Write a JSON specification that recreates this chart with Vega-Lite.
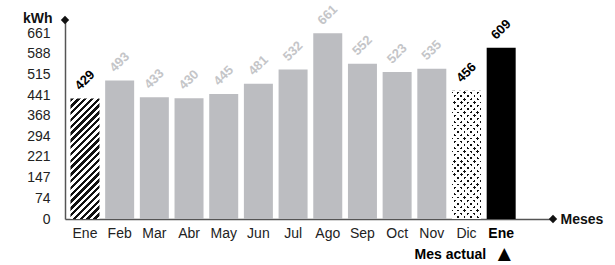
{
  "$schema": "https://vega.github.io/schema/vega-lite/v6.json",
  "width": 488,
  "height": 199,
  "autosize": {"type": "none"},
  "padding": {"left": 65, "top": 20, "right": 62, "bottom": 46},
  "background": "#ffffff",
  "config": {
    "font": "Liberation Sans",
    "view": {"stroke": null},
    "axis": {"grid": false, "ticks": false, "domainColor": "#555555", "domainWidth": 1.5, "labelColor": "#222222", "labelFontSize": 14, "labelFont": "Liberation Sans", "titleFont": "Liberation Sans", "labelOverlap": false},
    "axisY": {"labelOverlap": false}
  },
  "resolve": {"scale": {"x": "independent"}},
  "layer": [
    {
      "data": {"values": [
        {"mes": "Ene", "kwh": 429, "tipo": "anterior"},
        {"mes": "Feb", "kwh": 493, "tipo": "normal"},
        {"mes": "Mar", "kwh": 433, "tipo": "normal"},
        {"mes": "Abr", "kwh": 430, "tipo": "normal"},
        {"mes": "May", "kwh": 445, "tipo": "normal"},
        {"mes": "Jun", "kwh": 481, "tipo": "normal"},
        {"mes": "Jul", "kwh": 532, "tipo": "normal"},
        {"mes": "Ago", "kwh": 661, "tipo": "normal"},
        {"mes": "Sep", "kwh": 552, "tipo": "normal"},
        {"mes": "Oct", "kwh": 523, "tipo": "normal"},
        {"mes": "Nov", "kwh": 535, "tipo": "normal"},
        {"mes": "Dic", "kwh": 456, "tipo": "previo"},
        {"mes": "Ene ", "kwh": 609, "tipo": "actual"}
      ]},
      "encoding": {
        "x": {
          "field": "mes", "type": "nominal", "sort": null,
          "scale": {"domain": ["Ene", "Feb", "Mar", "Abr", "May", "Jun", "Jul", "Ago", "Sep", "Oct", "Nov", "Dic", "Ene "], "paddingInner": 0.164, "paddingOuter": 0.617, "align": 0.128, "round": false},
          "axis": {
            "labelAngle": 0, "labelPadding": 7, "labelExpr": "trim(datum.label)", "labelOverlap": false,
            "labelFontWeight": {"condition": {"test": "datum.value === 'Ene '", "value": "bold"}, "value": "normal"},
            "labelColor": {"condition": {"test": "datum.value === 'Ene '", "value": "#000000"}, "value": "#222222"},
            "title": "Meses", "titleX": 495, "titleY": 0, "titleAlign": "left", "titleBaseline": "middle", "titleAnchor": null,
            "titleFontWeight": "bold", "titleFontSize": 14, "titleColor": "#111111"
          }
        },
        "y": {
          "field": "kwh", "type": "quantitative",
          "scale": {"domain": [0, 708], "nice": false, "zero": true},
          "axis": {
            "values": [0, 74, 147, 221, 294, 368, 441, 515, 588, 661],
            "labelOverlap": false, "labelFlush": false,
            "labelPadding": 15,
            "title": "kWh", "titleAngle": 0, "titleX": -13, "titleY": -2, "titleAlign": "right", "titleBaseline": "middle",
            "titleFontWeight": "bold", "titleFontSize": 14, "titleColor": "#111111"
          }
        }
      },
      "layer": [
        {
          "transform": [{"filter": "datum.tipo === 'normal'"}],
          "mark": {"type": "bar", "fill": "#bcbdc1", "stroke": null}
        },
        {
          "transform": [{"filter": "datum.tipo === 'actual'"}],
          "mark": {"type": "bar", "fill": "#000000", "stroke": null}
        },
        {
          "transform": [{"filter": "datum.tipo === 'anterior'"}],
          "mark": {"type": "bar", "stroke": null, "fill": {
            "gradient": "linear", "x1": 0, "y1": 0, "x2": 0.282, "y2": 1.1727,
            "stops": [
              {"offset": 0, "color": "#111"}, {"offset": 0.0227, "color": "#111"}, {"offset": 0.0227, "color": "#fff"}, {"offset": 0.0455, "color": "#fff"},
              {"offset": 0.0455, "color": "#111"}, {"offset": 0.0682, "color": "#111"}, {"offset": 0.0682, "color": "#fff"}, {"offset": 0.0909, "color": "#fff"},
              {"offset": 0.0909, "color": "#111"}, {"offset": 0.1136, "color": "#111"}, {"offset": 0.1136, "color": "#fff"}, {"offset": 0.1364, "color": "#fff"},
              {"offset": 0.1364, "color": "#111"}, {"offset": 0.1591, "color": "#111"}, {"offset": 0.1591, "color": "#fff"}, {"offset": 0.1818, "color": "#fff"},
              {"offset": 0.1818, "color": "#111"}, {"offset": 0.2045, "color": "#111"}, {"offset": 0.2045, "color": "#fff"}, {"offset": 0.2273, "color": "#fff"},
              {"offset": 0.2273, "color": "#111"}, {"offset": 0.25, "color": "#111"}, {"offset": 0.25, "color": "#fff"}, {"offset": 0.2727, "color": "#fff"},
              {"offset": 0.2727, "color": "#111"}, {"offset": 0.2955, "color": "#111"}, {"offset": 0.2955, "color": "#fff"}, {"offset": 0.3182, "color": "#fff"},
              {"offset": 0.3182, "color": "#111"}, {"offset": 0.3409, "color": "#111"}, {"offset": 0.3409, "color": "#fff"}, {"offset": 0.3636, "color": "#fff"},
              {"offset": 0.3636, "color": "#111"}, {"offset": 0.3864, "color": "#111"}, {"offset": 0.3864, "color": "#fff"}, {"offset": 0.4091, "color": "#fff"},
              {"offset": 0.4091, "color": "#111"}, {"offset": 0.4318, "color": "#111"}, {"offset": 0.4318, "color": "#fff"}, {"offset": 0.4545, "color": "#fff"},
              {"offset": 0.4545, "color": "#111"}, {"offset": 0.4773, "color": "#111"}, {"offset": 0.4773, "color": "#fff"}, {"offset": 0.5, "color": "#fff"},
              {"offset": 0.5, "color": "#111"}, {"offset": 0.5227, "color": "#111"}, {"offset": 0.5227, "color": "#fff"}, {"offset": 0.5455, "color": "#fff"},
              {"offset": 0.5455, "color": "#111"}, {"offset": 0.5682, "color": "#111"}, {"offset": 0.5682, "color": "#fff"}, {"offset": 0.5909, "color": "#fff"},
              {"offset": 0.5909, "color": "#111"}, {"offset": 0.6136, "color": "#111"}, {"offset": 0.6136, "color": "#fff"}, {"offset": 0.6364, "color": "#fff"},
              {"offset": 0.6364, "color": "#111"}, {"offset": 0.6591, "color": "#111"}, {"offset": 0.6591, "color": "#fff"}, {"offset": 0.6818, "color": "#fff"},
              {"offset": 0.6818, "color": "#111"}, {"offset": 0.7045, "color": "#111"}, {"offset": 0.7045, "color": "#fff"}, {"offset": 0.7273, "color": "#fff"},
              {"offset": 0.7273, "color": "#111"}, {"offset": 0.75, "color": "#111"}, {"offset": 0.75, "color": "#fff"}, {"offset": 0.7727, "color": "#fff"},
              {"offset": 0.7727, "color": "#111"}, {"offset": 0.7955, "color": "#111"}, {"offset": 0.7955, "color": "#fff"}, {"offset": 0.8182, "color": "#fff"},
              {"offset": 0.8182, "color": "#111"}, {"offset": 0.8409, "color": "#111"}, {"offset": 0.8409, "color": "#fff"}, {"offset": 0.8636, "color": "#fff"},
              {"offset": 0.8636, "color": "#111"}, {"offset": 0.8864, "color": "#111"}, {"offset": 0.8864, "color": "#fff"}, {"offset": 0.9091, "color": "#fff"},
              {"offset": 0.9091, "color": "#111"}, {"offset": 0.9318, "color": "#111"}, {"offset": 0.9318, "color": "#fff"}, {"offset": 0.9545, "color": "#fff"},
              {"offset": 0.9545, "color": "#111"}, {"offset": 0.9773, "color": "#111"}, {"offset": 0.9773, "color": "#fff"}, {"offset": 1, "color": "#fff"}
            ]
          }}
        },
        {
          "transform": [{"filter": "datum.tipo === 'previo'"}],
          "mark": {"type": "bar", "stroke": null, "fill": {
            "gradient": "linear", "x1": 0, "y1": 0, "x2": 0.26395, "y2": 1.16655,
            "stops": [
              {"offset": 0, "color": "#111"}, {"offset": 0.0167, "color": "#111"}, {"offset": 0.0167, "color": "#fff"}, {"offset": 0.0417, "color": "#fff"},
              {"offset": 0.0417, "color": "#111"}, {"offset": 0.0583, "color": "#111"}, {"offset": 0.0583, "color": "#fff"}, {"offset": 0.0833, "color": "#fff"},
              {"offset": 0.0833, "color": "#111"}, {"offset": 0.1, "color": "#111"}, {"offset": 0.1, "color": "#fff"}, {"offset": 0.125, "color": "#fff"},
              {"offset": 0.125, "color": "#111"}, {"offset": 0.1417, "color": "#111"}, {"offset": 0.1417, "color": "#fff"}, {"offset": 0.1667, "color": "#fff"},
              {"offset": 0.1667, "color": "#111"}, {"offset": 0.1833, "color": "#111"}, {"offset": 0.1833, "color": "#fff"}, {"offset": 0.2083, "color": "#fff"},
              {"offset": 0.2083, "color": "#111"}, {"offset": 0.225, "color": "#111"}, {"offset": 0.225, "color": "#fff"}, {"offset": 0.25, "color": "#fff"},
              {"offset": 0.25, "color": "#111"}, {"offset": 0.2667, "color": "#111"}, {"offset": 0.2667, "color": "#fff"}, {"offset": 0.2917, "color": "#fff"},
              {"offset": 0.2917, "color": "#111"}, {"offset": 0.3083, "color": "#111"}, {"offset": 0.3083, "color": "#fff"}, {"offset": 0.3333, "color": "#fff"},
              {"offset": 0.3333, "color": "#111"}, {"offset": 0.35, "color": "#111"}, {"offset": 0.35, "color": "#fff"}, {"offset": 0.375, "color": "#fff"},
              {"offset": 0.375, "color": "#111"}, {"offset": 0.3917, "color": "#111"}, {"offset": 0.3917, "color": "#fff"}, {"offset": 0.4167, "color": "#fff"},
              {"offset": 0.4167, "color": "#111"}, {"offset": 0.4333, "color": "#111"}, {"offset": 0.4333, "color": "#fff"}, {"offset": 0.4583, "color": "#fff"},
              {"offset": 0.4583, "color": "#111"}, {"offset": 0.475, "color": "#111"}, {"offset": 0.475, "color": "#fff"}, {"offset": 0.5, "color": "#fff"},
              {"offset": 0.5, "color": "#111"}, {"offset": 0.5167, "color": "#111"}, {"offset": 0.5167, "color": "#fff"}, {"offset": 0.5417, "color": "#fff"},
              {"offset": 0.5417, "color": "#111"}, {"offset": 0.5583, "color": "#111"}, {"offset": 0.5583, "color": "#fff"}, {"offset": 0.5833, "color": "#fff"},
              {"offset": 0.5833, "color": "#111"}, {"offset": 0.6, "color": "#111"}, {"offset": 0.6, "color": "#fff"}, {"offset": 0.625, "color": "#fff"},
              {"offset": 0.625, "color": "#111"}, {"offset": 0.6417, "color": "#111"}, {"offset": 0.6417, "color": "#fff"}, {"offset": 0.6667, "color": "#fff"},
              {"offset": 0.6667, "color": "#111"}, {"offset": 0.6833, "color": "#111"}, {"offset": 0.6833, "color": "#fff"}, {"offset": 0.7083, "color": "#fff"},
              {"offset": 0.7083, "color": "#111"}, {"offset": 0.725, "color": "#111"}, {"offset": 0.725, "color": "#fff"}, {"offset": 0.75, "color": "#fff"},
              {"offset": 0.75, "color": "#111"}, {"offset": 0.7667, "color": "#111"}, {"offset": 0.7667, "color": "#fff"}, {"offset": 0.7917, "color": "#fff"},
              {"offset": 0.7917, "color": "#111"}, {"offset": 0.8083, "color": "#111"}, {"offset": 0.8083, "color": "#fff"}, {"offset": 0.8333, "color": "#fff"},
              {"offset": 0.8333, "color": "#111"}, {"offset": 0.85, "color": "#111"}, {"offset": 0.85, "color": "#fff"}, {"offset": 0.875, "color": "#fff"},
              {"offset": 0.875, "color": "#111"}, {"offset": 0.8917, "color": "#111"}, {"offset": 0.8917, "color": "#fff"}, {"offset": 0.9167, "color": "#fff"},
              {"offset": 0.9167, "color": "#111"}, {"offset": 0.9333, "color": "#111"}, {"offset": 0.9333, "color": "#fff"}, {"offset": 0.9583, "color": "#fff"},
              {"offset": 0.9583, "color": "#111"}, {"offset": 0.975, "color": "#111"}, {"offset": 0.975, "color": "#fff"}, {"offset": 1, "color": "#fff"}
            ]
          }}
        },
        {
          "transform": [{"filter": "datum.tipo === 'previo'"}],
          "mark": {"type": "bar", "stroke": null, "fill": {
            "gradient": "linear", "x1": 0, "y1": 1, "x2": 0.26395, "y2": -0.16655,
            "stops": [
              {"offset": 0, "color": "rgba(255,255,255,0)"}, {"offset": 0.0167, "color": "rgba(255,255,255,0)"}, {"offset": 0.0167, "color": "#fff"}, {"offset": 0.0417, "color": "#fff"},
              {"offset": 0.0417, "color": "rgba(255,255,255,0)"}, {"offset": 0.0583, "color": "rgba(255,255,255,0)"}, {"offset": 0.0583, "color": "#fff"}, {"offset": 0.0833, "color": "#fff"},
              {"offset": 0.0833, "color": "rgba(255,255,255,0)"}, {"offset": 0.1, "color": "rgba(255,255,255,0)"}, {"offset": 0.1, "color": "#fff"}, {"offset": 0.125, "color": "#fff"},
              {"offset": 0.125, "color": "rgba(255,255,255,0)"}, {"offset": 0.1417, "color": "rgba(255,255,255,0)"}, {"offset": 0.1417, "color": "#fff"}, {"offset": 0.1667, "color": "#fff"},
              {"offset": 0.1667, "color": "rgba(255,255,255,0)"}, {"offset": 0.1833, "color": "rgba(255,255,255,0)"}, {"offset": 0.1833, "color": "#fff"}, {"offset": 0.2083, "color": "#fff"},
              {"offset": 0.2083, "color": "rgba(255,255,255,0)"}, {"offset": 0.225, "color": "rgba(255,255,255,0)"}, {"offset": 0.225, "color": "#fff"}, {"offset": 0.25, "color": "#fff"},
              {"offset": 0.25, "color": "rgba(255,255,255,0)"}, {"offset": 0.2667, "color": "rgba(255,255,255,0)"}, {"offset": 0.2667, "color": "#fff"}, {"offset": 0.2917, "color": "#fff"},
              {"offset": 0.2917, "color": "rgba(255,255,255,0)"}, {"offset": 0.3083, "color": "rgba(255,255,255,0)"}, {"offset": 0.3083, "color": "#fff"}, {"offset": 0.3333, "color": "#fff"},
              {"offset": 0.3333, "color": "rgba(255,255,255,0)"}, {"offset": 0.35, "color": "rgba(255,255,255,0)"}, {"offset": 0.35, "color": "#fff"}, {"offset": 0.375, "color": "#fff"},
              {"offset": 0.375, "color": "rgba(255,255,255,0)"}, {"offset": 0.3917, "color": "rgba(255,255,255,0)"}, {"offset": 0.3917, "color": "#fff"}, {"offset": 0.4167, "color": "#fff"},
              {"offset": 0.4167, "color": "rgba(255,255,255,0)"}, {"offset": 0.4333, "color": "rgba(255,255,255,0)"}, {"offset": 0.4333, "color": "#fff"}, {"offset": 0.4583, "color": "#fff"},
              {"offset": 0.4583, "color": "rgba(255,255,255,0)"}, {"offset": 0.475, "color": "rgba(255,255,255,0)"}, {"offset": 0.475, "color": "#fff"}, {"offset": 0.5, "color": "#fff"},
              {"offset": 0.5, "color": "rgba(255,255,255,0)"}, {"offset": 0.5167, "color": "rgba(255,255,255,0)"}, {"offset": 0.5167, "color": "#fff"}, {"offset": 0.5417, "color": "#fff"},
              {"offset": 0.5417, "color": "rgba(255,255,255,0)"}, {"offset": 0.5583, "color": "rgba(255,255,255,0)"}, {"offset": 0.5583, "color": "#fff"}, {"offset": 0.5833, "color": "#fff"},
              {"offset": 0.5833, "color": "rgba(255,255,255,0)"}, {"offset": 0.6, "color": "rgba(255,255,255,0)"}, {"offset": 0.6, "color": "#fff"}, {"offset": 0.625, "color": "#fff"},
              {"offset": 0.625, "color": "rgba(255,255,255,0)"}, {"offset": 0.6417, "color": "rgba(255,255,255,0)"}, {"offset": 0.6417, "color": "#fff"}, {"offset": 0.6667, "color": "#fff"},
              {"offset": 0.6667, "color": "rgba(255,255,255,0)"}, {"offset": 0.6833, "color": "rgba(255,255,255,0)"}, {"offset": 0.6833, "color": "#fff"}, {"offset": 0.7083, "color": "#fff"},
              {"offset": 0.7083, "color": "rgba(255,255,255,0)"}, {"offset": 0.725, "color": "rgba(255,255,255,0)"}, {"offset": 0.725, "color": "#fff"}, {"offset": 0.75, "color": "#fff"},
              {"offset": 0.75, "color": "rgba(255,255,255,0)"}, {"offset": 0.7667, "color": "rgba(255,255,255,0)"}, {"offset": 0.7667, "color": "#fff"}, {"offset": 0.7917, "color": "#fff"},
              {"offset": 0.7917, "color": "rgba(255,255,255,0)"}, {"offset": 0.8083, "color": "rgba(255,255,255,0)"}, {"offset": 0.8083, "color": "#fff"}, {"offset": 0.8333, "color": "#fff"},
              {"offset": 0.8333, "color": "rgba(255,255,255,0)"}, {"offset": 0.85, "color": "rgba(255,255,255,0)"}, {"offset": 0.85, "color": "#fff"}, {"offset": 0.875, "color": "#fff"},
              {"offset": 0.875, "color": "rgba(255,255,255,0)"}, {"offset": 0.8917, "color": "rgba(255,255,255,0)"}, {"offset": 0.8917, "color": "#fff"}, {"offset": 0.9167, "color": "#fff"},
              {"offset": 0.9167, "color": "rgba(255,255,255,0)"}, {"offset": 0.9333, "color": "rgba(255,255,255,0)"}, {"offset": 0.9333, "color": "#fff"}, {"offset": 0.9583, "color": "#fff"},
              {"offset": 0.9583, "color": "rgba(255,255,255,0)"}, {"offset": 0.975, "color": "rgba(255,255,255,0)"}, {"offset": 0.975, "color": "#fff"}, {"offset": 1, "color": "#fff"}
            ]
          }}
        },
        {
          "mark": {"type": "text", "angle": 315, "align": "left", "baseline": "middle", "dx": 2, "dy": -13, "fontSize": 13, "fontWeight": "bold", "font": "Liberation Sans"},
          "encoding": {
            "text": {"field": "kwh", "type": "quantitative"},
            "color": {"condition": {"test": "datum.tipo === 'normal'", "value": "#c4c5c8"}, "value": "#000000"}
          }
        },
        {
          "transform": [{"filter": "datum.tipo === 'actual'"}],
          "mark": {"type": "text", "align": "right", "baseline": "middle", "dx": -15, "dy": 36, "fontSize": 14, "fontWeight": "bold", "font": "Liberation Sans", "color": "#000000"},
          "encoding": {
            "y": {"datum": 0, "type": "quantitative"},
            "text": {"value": "Mes actual"}
          }
        },
        {
          "transform": [{"filter": "datum.tipo === 'actual'"}],
          "mark": {"type": "text", "align": "center", "baseline": "middle", "dx": 3, "dy": 35, "fontSize": 17, "fontWeight": "bold", "font": "DejaVu Sans", "color": "#000000"},
          "encoding": {
            "y": {"datum": 0, "type": "quantitative"},
            "text": {"value": "▲"}
          }
        }
      ]
    },
    {
      "data": {"values": [{}]},
      "mark": {"type": "point", "shape": "diamond", "filled": true, "size": 70, "color": "#111111", "opacity": 1},
      "encoding": {
        "x": {"datum": 0, "type": "quantitative", "scale": {"domain": [0, 1], "nice": false, "zero": false}, "axis": null},
        "y": {"datum": 708, "type": "quantitative", "axis": {
            "values": [0, 74, 147, 221, 294, 368, 441, 515, 588, 661],
            "labelOverlap": false, "labelFlush": false,
            "labelPadding": 15,
            "title": "kWh", "titleAngle": 0, "titleX": -13, "titleY": -2, "titleAlign": "right", "titleBaseline": "middle",
            "titleFontWeight": "bold", "titleFontSize": 14, "titleColor": "#111111"
          }}
      }
    },
    {
      "data": {"values": [{}]},
      "mark": {"type": "point", "shape": "diamond", "filled": true, "size": 70, "color": "#111111", "opacity": 1},
      "encoding": {
        "x": {"datum": 1, "type": "quantitative", "scale": {"domain": [0, 1], "nice": false, "zero": false}, "axis": null},
        "y": {"datum": 0, "type": "quantitative", "axis": {
            "values": [0, 74, 147, 221, 294, 368, 441, 515, 588, 661],
            "labelOverlap": false, "labelFlush": false,
            "labelPadding": 15,
            "title": "kWh", "titleAngle": 0, "titleX": -13, "titleY": -2, "titleAlign": "right", "titleBaseline": "middle",
            "titleFontWeight": "bold", "titleFontSize": 14, "titleColor": "#111111"
          }}
      }
    }
  ]
}
